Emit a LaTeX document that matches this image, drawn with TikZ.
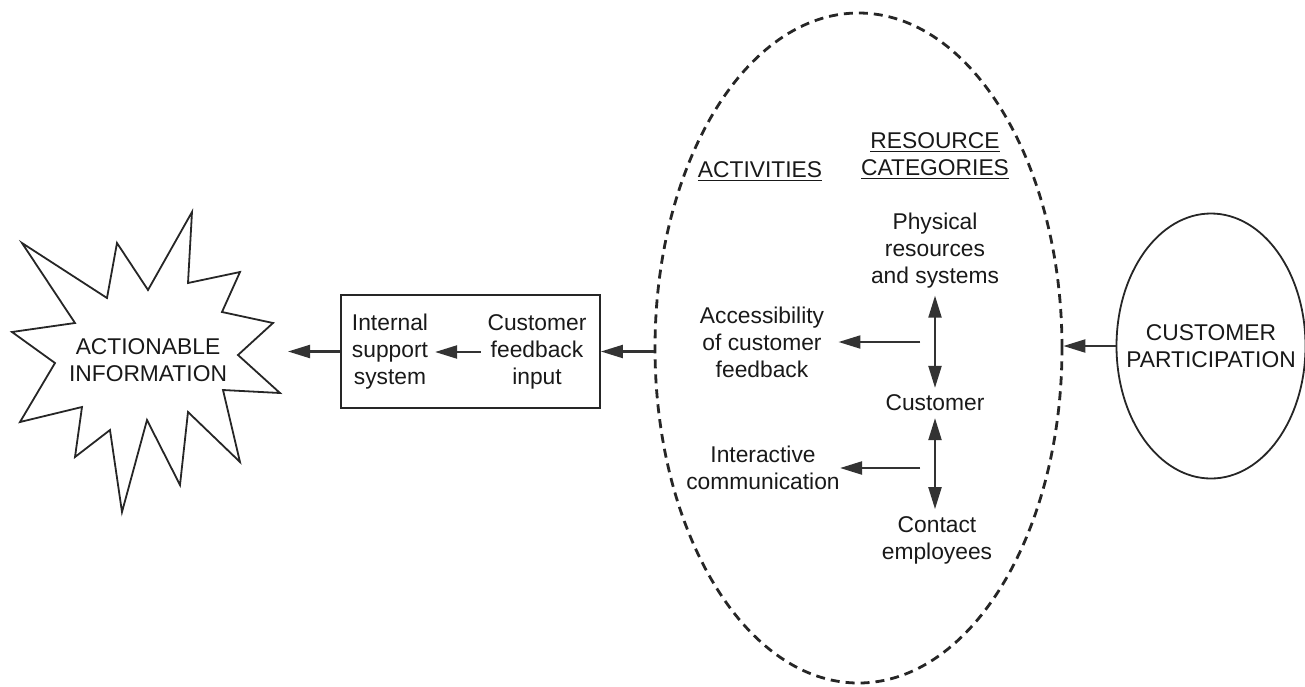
\documentclass[tikz,border=0pt]{standalone}
\usepackage{fontspec}
\setmainfont{Liberation Sans}
\usetikzlibrary{arrows.meta,shapes.geometric}
\tikzset{
  txt/.style={align=center,font=\fontsize{11.4}{13.5}\selectfont,text=black!90},
  tip/.tip={Triangle[length=11pt,width=6.5pt]},
  arr/.style={-tip,line width=1.1pt,draw=black!80,fill=black!80},
  dbl/.style={tip-tip,line width=1.1pt,draw=black!80,fill=black!80},
  outline/.style={draw=black!85,line width=0.9pt}
}
\begin{document}
\begin{tikzpicture}[x=0.5pt,y=-0.5pt]
\useasboundingbox (0,0) rectangle (1305,686);
% starburst
\draw[outline,line join=miter]
 (192,212) -- (188,283) -- (240,272) -- (222,312) -- (273,323) -- (238,355)
 -- (280,393) -- (223,390) -- (240,462) -- (188,412) -- (180,485) -- (147,420)
 -- (122,512) -- (110,430) -- (75,457) -- (82,407) -- (20,422) -- (55,363)
 -- (12,332) -- (75,323) -- (22,243) -- (107,298) -- (117,243) -- (148,290) -- cycle;
\node[txt] (act) at (148,360) {ACTIONABLE\\INFORMATION};
\coordinate (starR) at (288,351.5);
% box
\node[outline,rectangle,minimum width=129.5pt,minimum height=56.5pt,inner sep=0pt] (box) at (470.5,351.5) {};
\node[txt] (intern) at (390,352) {Internal\\support\\system};
\node[txt] (cfi) at (537,352) {Customer\\feedback\\input};
\draw[arr] (cfi.west) -- (intern.east);
\draw[arr] (box.west) -- (starR);
% dashed ellipse
\node[ellipse,draw=black!85,line width=1.4pt,dash pattern=on 4.5pt off 3pt,minimum width=203.5pt,minimum height=335pt,inner sep=0pt] (ell) at (858.5,348) {};
\draw[arr] (ell.west |- box.east) -- (box.east);
% headings
\node[txt] (actv) at (760,172) {\underline{ACTIVITIES}};
\node[txt] (res) at (935,156) {\underline{RESOURCE}\\\underline{CATEGORIES}};
% resources
\node[txt] (phys) at (935,251) {Physical\\resources\\and systems};
\node[txt] (cust) at (935,403) {Customer};
\node[txt] (cont) at (937,540) {Contact\\employees};
\draw[dbl] (cust.north) -- (cust.north |- phys.south);
\draw[dbl] (cust.south) -- (cust.south |- cont.north);
% activities
\node[txt,inner sep=0pt] (acc) at (762,342) {Accessibility\\of customer\\feedback};
\node[txt,inner sep=0pt] (inter) at (763,468) {Interactive\\communication};
\coordinate (h1) at (920,342);
\coordinate (h2) at (920,468);
\draw[arr] (h1) -- ([xshift=7pt]acc.east);
\draw[arr] (h2) -- (inter.east);
% customer participation
\node[ellipse,outline,minimum width=94.5pt,minimum height=132.5pt,inner sep=0pt] (cp) at (1211,346) {};
\node[txt] (cpt) at (cp.center) {CUSTOMER\\PARTICIPATION};
\draw[arr] (cp.west) -- (ell.east |- cp.west);
\end{tikzpicture}
\end{document}
